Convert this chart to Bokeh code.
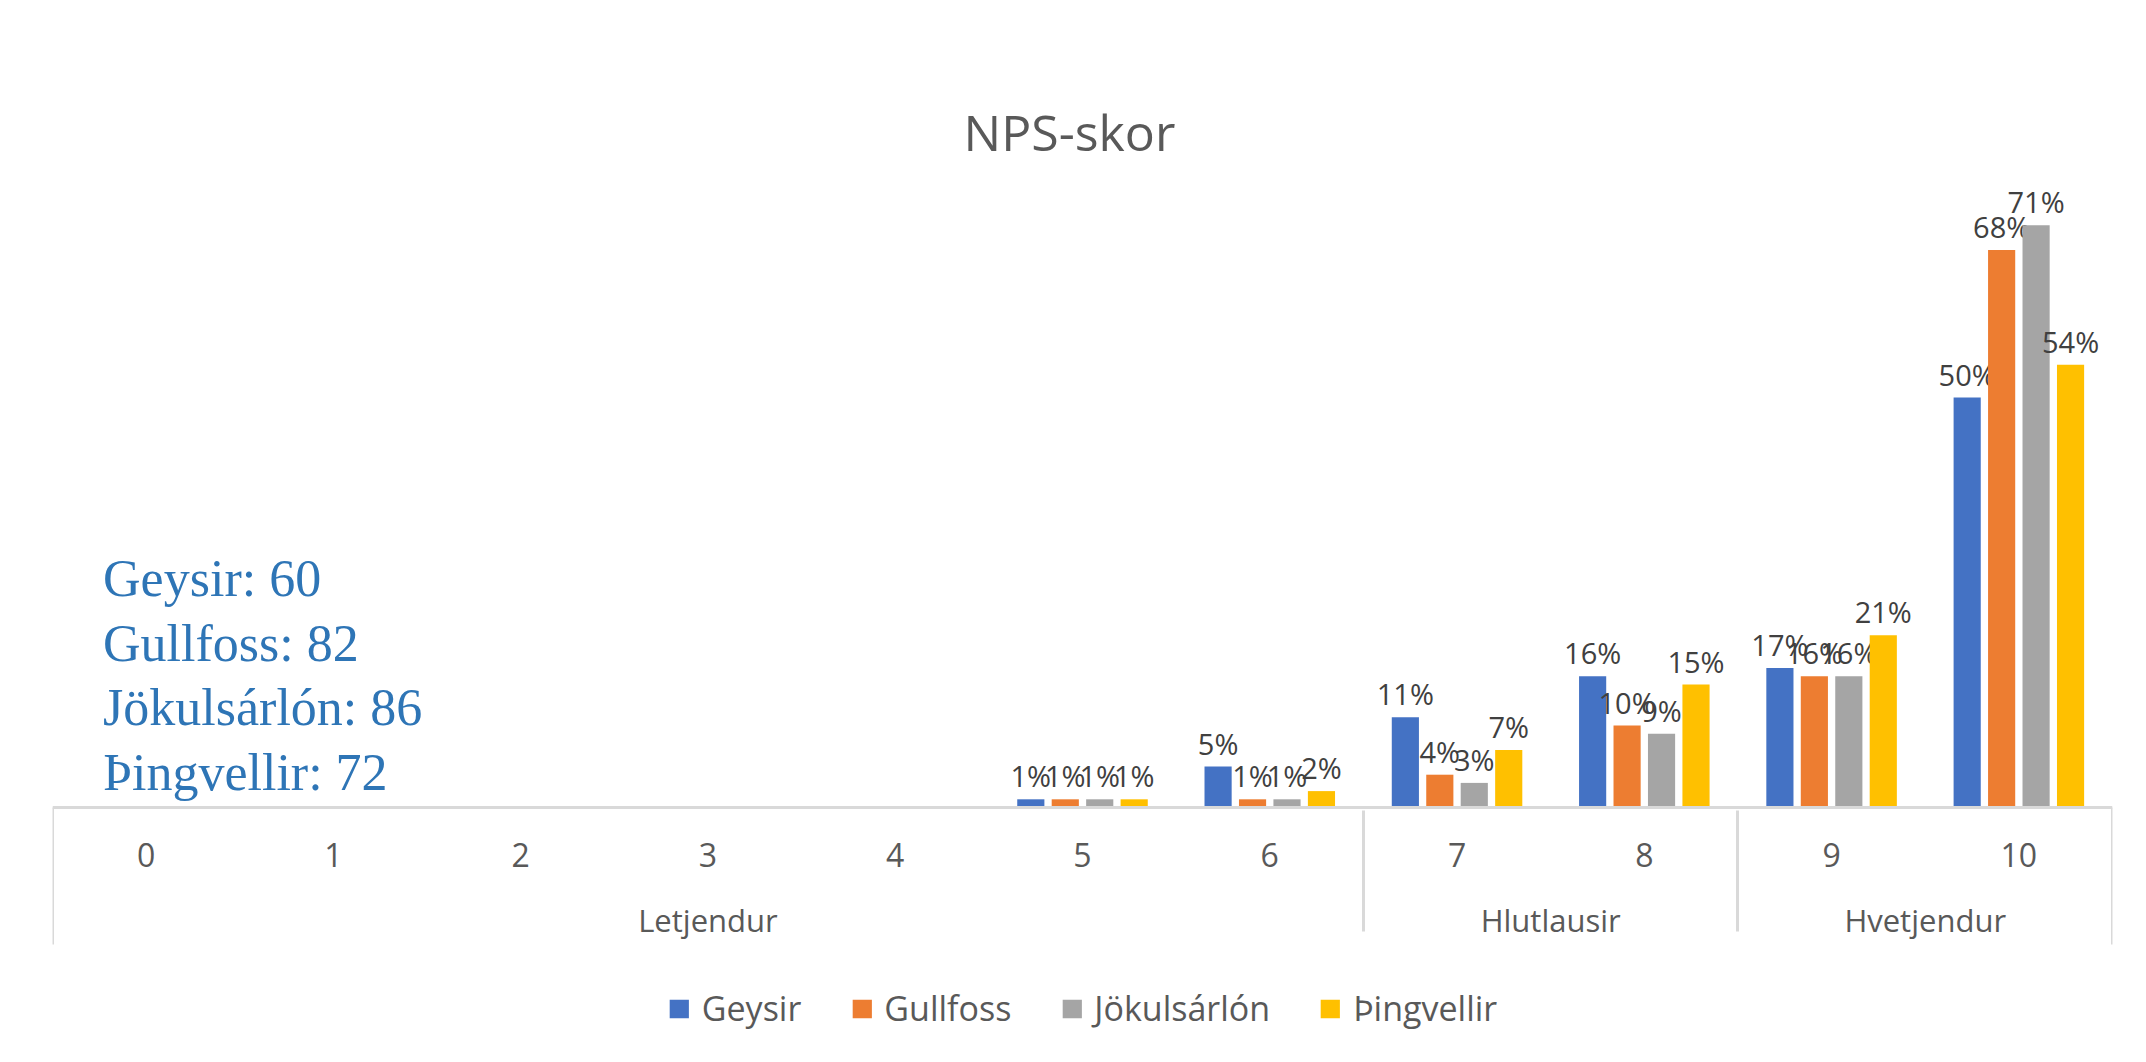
from bokeh.plotting import figure
from bokeh.models import FactorRange, Range1d, ColumnDataSource, Label
from bokeh.transform import dodge
from bokeh.core.properties import value
from bokeh.embed import file_html
from bokeh.resources import INLINE

# ---------------- data ----------------
title = "NPS-skor"
groups = ["Letjendur"] * 7 + ["Hlutlausir"] * 2 + ["Hvetjendur"] * 2
scores = ["0", "1", "2", "3", "4", "5", "6", "7", "8", "9", "10"]
series = ["Geysir", "Gullfoss", "Jökulsárlón", "Þingvellir"]
colors = ["#4472C4", "#ED7D31", "#A5A5A5", "#FFC000"]
geysir = [None, None, None, None, None, 1, 5, 11, 16, 17, 50]
gullfoss = [None, None, None, None, None, 1, 1, 4, 10, 16, 68]
jokulsarlon = [None, None, None, None, None, 1, 1, 3, 9, 16, 71]
thingvellir = [None, None, None, None, None, 1, 2, 7, 15, 21, 54]
values = [geysir, gullfoss, jokulsarlon, thingvellir]
nps_names = ["Geysir", "Gullfoss", "Jökulsárlón", "Þingvellir"]
nps_scores = [60, 82, 86, 72]

# ---------------- layout ----------------
W, H = 2130, 1046
FRAME_TOP = 170          # canvas px
PX_PER_PCT = 8.2
BASE = 807               # canvas y of 0 %
FRAME_BOTTOM = H
y_end = (BASE - FRAME_TOP) / PX_PER_PCT
y_start = -(FRAME_BOTTOM - BASE) / PX_PER_PCT
AXIS_DEPTH = 137 / PX_PER_PCT

factors = list(zip(groups, scores))
x_range = FactorRange(factors=factors, group_padding=0, factor_padding=0, range_padding=0)

p = figure(width=W, height=H, x_range=x_range, y_range=Range1d(y_start, y_end),
           output_backend="svg", toolbar_location=None,
           min_border_left=52, min_border_right=18, min_border_top=FRAME_TOP,
           min_border_bottom=0)
p.outline_line_color = None
p.background_fill_color = "white"
p.border_fill_color = "white"
p.xgrid.visible = False
p.ygrid.visible = False
p.yaxis.visible = False

p.title.text = title
p.title.align = "left"
p.title.offset = 911
p.title.text_font = "Open Sans"
p.title.text_font_size = "50px"
p.title.text_font_style = "normal"
p.title.text_color = "#595959"

offsets = [-0.276, -0.092, 0.092, 0.276]
for name, vals, col, off in zip(series, values, colors, offsets):
    xs = [f for f, v in zip(factors, vals) if v is not None]
    vs = [v for v in vals if v is not None]
    src = ColumnDataSource(dict(x=xs, v=vs, lbl=[f"{v}%" for v in vs]))
    p.vbar(x=dodge("x", off, range=p.x_range), top="v", bottom=0, width=0.145,
           source=src, fill_color=col, line_color=None, legend_label=name)
    p.text(x=dodge("x", off, range=p.x_range), y="v", text="lbl", source=src,
           text_align="center", text_baseline="bottom", y_offset=-4,
           text_font=value("Open Sans"), text_font_size="29px", text_color="#404040")

ax = p.xaxis[0]
ax.fixed_location = 0
ax.axis_line_color = "#D9D9D9"
ax.axis_line_width = 3
ax.major_tick_line_color = None
ax.minor_tick_line_color = None
ax.major_label_standoff = 29
ax.major_label_text_font = "Open Sans"
ax.major_label_text_font_size = "32px"
ax.major_label_text_color = "#595959"
ax.group_text_font = "Open Sans"
ax.group_text_font_size = "31px"
ax.group_text_font_style = "normal"
ax.group_text_color = "#595959"
ax.separator_line_color = "#D9D9D9"
ax.separator_line_width = 3

# outer end lines of the category axis box
ends = ColumnDataSource(dict(
    x=[(groups[0], scores[0], -0.5), (groups[-1], scores[-1], 0.5)],
    y0=[0, 0], y1=[-AXIS_DEPTH, -AXIS_DEPTH]))
p.segment(x0="x", y0="y0", x1="x", y1="y1", source=ends,
          line_color="#D9D9D9", line_width=3)

# NPS text box
line_y0 = (BASE - 578) / PX_PER_PCT
step = 64.5 / PX_PER_PCT
for i, (n, s) in enumerate(zip(nps_names, nps_scores)):
    p.add_layout(Label(x=0.27, y=line_y0 - i * step, text=f"{n}: {s}",
                       text_font="Liberation Serif", text_font_size="52px",
                       text_color="#2E75B6", text_baseline="middle"))

lg = p.legend[0]
lg.location = "bottom_center"
lg.orientation = "horizontal"
lg.border_line_color = None
lg.background_fill_alpha = 0
lg.label_text_font = "Open Sans"
lg.label_text_font_size = "34px"
lg.label_text_color = "#595959"
lg.glyph_width = 24
lg.glyph_height = 23
lg.spacing = 48
lg.label_standoff = 11
lg.padding = 0
lg.margin = 15

open("out.html", "w").write(file_html(p, INLINE))
